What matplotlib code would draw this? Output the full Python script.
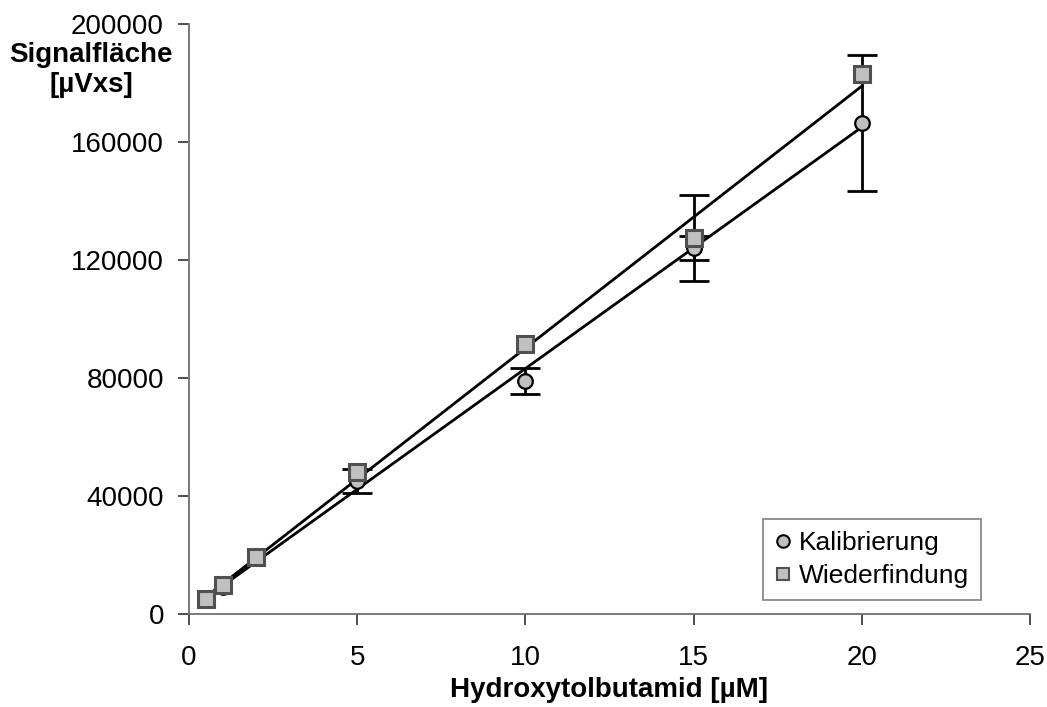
import numpy as np
import matplotlib
matplotlib.use("Agg")
import matplotlib.pyplot as plt

plt.rcParams['font.family'] = ['Liberation Sans', 'DejaVu Sans']

# Concentrations [µM]
conc = [0.5, 1, 2, 5, 10, 15, 20]

# Calibration series (mean peak area and standard deviation)
kalib_mean = [5000, 9000, 19000, 45000, 79000, 124000, 166500]
kalib_sd = [0, 0, 0, 4000, 4500, 4000, 23000]

# Recovery series (mean peak area and standard deviation)
wieder_mean = [5000, 10000, 19500, 48000, 91500, 127500, 183000]
wieder_sd = [0, 0, 0, 0, 0, 14500, 0]

x_ticks = [0, 5, 10, 15, 20, 25]
y_ticks = [0, 40000, 80000, 120000, 160000, 200000]

fig = plt.figure(figsize=(10.47, 7.07), dpi=100)
ax = fig.add_axes([0.1805, 0.1315, 0.8033, 0.8345])

fill = '#c0c0c0'
x = np.array(conc, dtype=float)
xfit = np.array([x.min(), x.max()])

# Linear regression lines for each series
for ys in (kalib_mean, wieder_mean):
    k, d = np.polyfit(x, np.array(ys, dtype=float), 1)
    ax.plot(xfit, k * xfit + d, color='black', lw=2.0, zorder=3)


def draw_errors(xs, ys, sd):
    idx = [i for i, s in enumerate(sd) if s > 0]
    ax.errorbar([xs[i] for i in idx], [ys[i] for i in idx],
                yerr=[sd[i] for i in idx], fmt='none', ecolor='black',
                elinewidth=2.0, capsize=11, capthick=2.0, zorder=2)


draw_errors(conc, kalib_mean, kalib_sd)
draw_errors(conc, wieder_mean, wieder_sd)

ax.plot(conc, kalib_mean, linestyle='none', marker='o', markersize=10.5,
        markerfacecolor=fill, markeredgecolor='black', markeredgewidth=1.6,
        zorder=4, label='Kalibrierung')
ax.plot(conc, wieder_mean, linestyle='none', marker='s', markersize=11,
        markerfacecolor=fill, markeredgecolor='#505050', markeredgewidth=2.2,
        zorder=5, label='Wiederfindung')

ax.set_xlim(0, 25)
ax.set_ylim(0, 200000)
ax.set_xticks(x_ticks)
ax.set_yticks(y_ticks)
ax.set_xticklabels([str(t) for t in x_ticks])
ax.set_yticklabels([str(t) for t in y_ticks])

for side in ('top', 'right'):
    ax.spines[side].set_visible(False)
for side in ('left', 'bottom'):
    ax.spines[side].set_color('#707070')
    ax.spines[side].set_linewidth(1.3)

ax.tick_params(axis='both', direction='out', length=8, width=1.3,
               color='#404040', labelsize=20)
ax.tick_params(axis='y', pad=10)
ax.tick_params(axis='x', pad=14)

leg = ax.legend(loc='lower left', bbox_to_anchor=(0.683, 0.024),
                fontsize=19, frameon=True, fancybox=False,
                handlelength=0.6, handletextpad=0.3, borderpad=0.45,
                labelspacing=0.35, borderaxespad=0)
leg.get_frame().set_edgecolor('#606060')
leg.get_frame().set_linewidth(1.2)
for h in leg.legend_handles:
    h.set_markersize(9)
    h.set_markeredgewidth(1.5)

fig.text(91 / 1047, 1 - 70 / 707, 'Signalfläche\n[µVxs]', ha='center',
         va='center', fontsize=20, fontweight='bold', linespacing=1.2)
fig.text(609.5 / 1047, 1 - 690 / 707, 'Hydroxytolbutamid [µM]', ha='center',
         va='center', fontsize=20, fontweight='bold')

fig.savefig('out.png', dpi=100, facecolor='white')
